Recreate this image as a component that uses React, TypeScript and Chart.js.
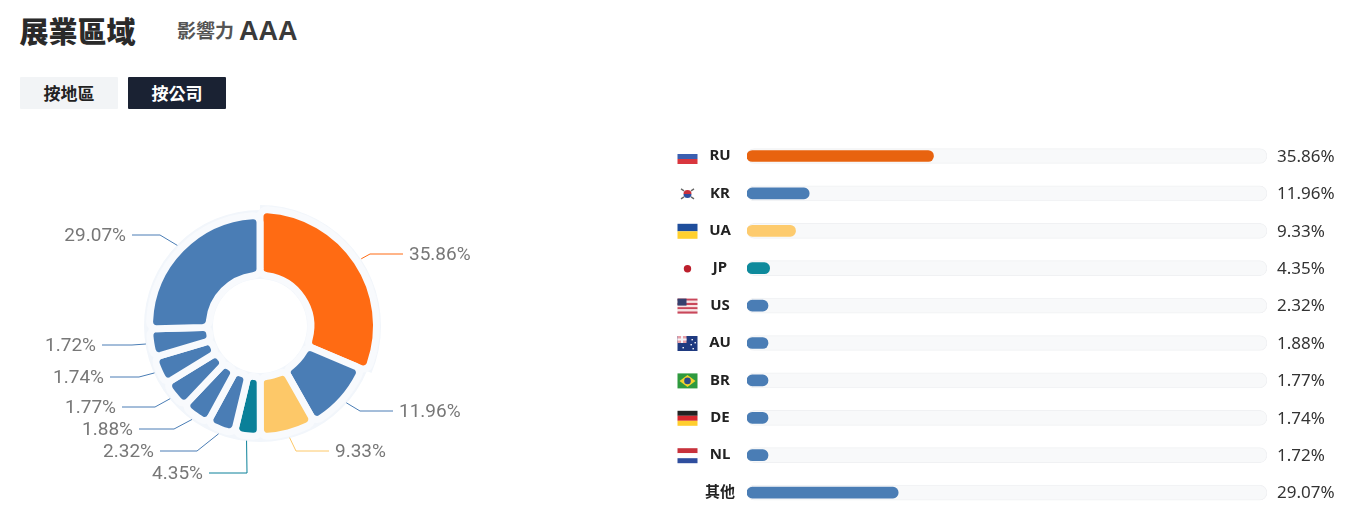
import React, { useEffect, useRef } from "react";
import { Chart, registerables } from "chart.js";

Chart.register(...registerables);

const categories = ["RU", "KR", "UA", "JP", "US", "AU", "BR", "DE", "NL", "其他"];
const shares = [35.86, 11.96, 9.33, 4.35, 2.32, 1.88, 1.77, 1.74, 1.72, 29.07];
const sliceColors = ["#FF6B13", "#4A7DB5", "#FDC868", "#0A8099", "#4A7DB5", "#4A7DB5", "#4A7DB5", "#4A7DB5", "#4A7DB5", "#4A7DB5"];
const barColors = ["#E8630F", "#4A7DB5", "#FDCB6E", "#0E8A9C", "#4A7DB5", "#4A7DB5", "#4A7DB5", "#4A7DB5", "#4A7DB5", "#4A7DB5"];
const trackValues = categories.map(() => 100);

// Where each pie label sits, relative to the canvas of the pie.
const labelElbowX = [370, 360, 296, 247, 197, 174, 155, 139, 132, 160];
const labelMidY = [254, 411, 451, 473, 451, 429, 407, 377, 345, 235];
const labelRun = [33, 33, 33, 38, 37, 35, 33, 29, 30, 28];

const MIN_ANGLE = 15;
// The pie in the reference widens tiny slices to a minimum angle.
function displayAngles(values: number[]) {
  const total = values.reduce((a, b) => a + b, 0);
  const unit = 360 / total;
  let rest = 360;
  let larger = 0;
  values.forEach((v) => {
    if (v * unit < MIN_ANGLE) rest -= MIN_ANGLE;
    else larger += v;
  });
  return values.map((v) => (v * unit < MIN_ANGLE ? MIN_ANGLE : (v * rest) / larger));
}

const PIE_TOP = 130;
const LABEL_FONT = "400 19px Roboto";

const pieExtras = {
  id: "pieExtras",
  afterDatasetsUpdate(chart: any) {
    const arc = chart.getDatasetMeta(0).data[0];
    arc.outerRadius += 6;
  },
  beforeDatasetsDraw(chart: any) {
    const { ctx } = chart;
    const arcs = chart.getDatasetMeta(0).data;
    const a = arcs[1];
    const o = arcs[0];
    ctx.save();
    ctx.fillStyle = "#F2F6FB";
    ctx.beginPath();
    ctx.arc(a.x, a.y, 116, 0, Math.PI * 2);
    ctx.arc(a.x, a.y, 47, 0, Math.PI * 2, true);
    ctx.fill("evenodd");
    ctx.beginPath();
    ctx.arc(a.x, a.y, 121, o.startAngle, o.endAngle);
    ctx.arc(a.x, a.y, 110, o.endAngle, o.startAngle, true);
    ctx.closePath();
    ctx.fill();
    ctx.restore();
  },
  afterDatasetsDraw(chart: any) {
    const { ctx } = chart;
    const arcs = chart.getDatasetMeta(0).data;
    ctx.save();
    ctx.font = LABEL_FONT;
    ctx.textBaseline = "middle";
    arcs.forEach((arc: any, i: number) => {
      const mid = (arc.startAngle + arc.endAngle) / 2;
      const r = arc.outerRadius + 5;
      const sx = arc.x + Math.cos(mid) * r;
      const sy = arc.y + Math.sin(mid) * r;
      const ly = labelMidY[i] - PIE_TOP;
      const right = Math.cos(mid) > 0;
      const text = shares[i].toFixed(2) + "%";
      const w = ctx.measureText(text).width;
      const elbowX = labelElbowX[i];
      const endX = right ? elbowX + labelRun[i] : elbowX - labelRun[i];
      ctx.beginPath();
      ctx.moveTo(sx, sy);
      ctx.lineTo(elbowX, ly);
      ctx.lineTo(endX, ly);
      ctx.strokeStyle = sliceColors[i];
      ctx.lineWidth = 1;
      ctx.stroke();
      ctx.fillStyle = "#777";
      ctx.textAlign = "left";
      ctx.fillText(text, right ? endX + 6 : endX - 6 - w, ly + 1);
    });
    ctx.restore();
  },
};

function drawFlag(ctx: CanvasRenderingContext2D, code: string, x: number, y: number) {
  const W = 20;
  const H = 15;
  const stripes = (cols: string[]) => {
    cols.forEach((c, i) => {
      ctx.fillStyle = c;
      ctx.fillRect(x, y + (i * H) / cols.length, W, H / cols.length);
    });
  };
  if (code === "RU") stripes(["#FFFFFF", "#3B5FB0", "#D9363E"]);
  else if (code === "UA") stripes(["#1F4E9C", "#FFD02E"]);
  else if (code === "DE") stripes(["#222222", "#D8272E", "#FFCE2E"]);
  else if (code === "NL") stripes(["#C8323C", "#FFFFFF", "#2F4E9E"]);
  else if (code === "JP") {
    ctx.fillStyle = "#BC1F2C";
    ctx.beginPath();
    ctx.arc(x + 10, y + 7.5, 3.7, 0, Math.PI * 2);
    ctx.fill();
  } else if (code === "KR") {
    ctx.fillStyle = "#C8303C";
    ctx.beginPath();
    ctx.arc(x + 10, y + 7.5, 4, Math.PI, 0);
    ctx.fill();
    ctx.fillStyle = "#2F4E9E";
    ctx.beginPath();
    ctx.arc(x + 10, y + 7.5, 4, 0, Math.PI);
    ctx.fill();
    ctx.strokeStyle = "#666";
    ctx.lineWidth = 1.4;
    [[3.5, 2.5, 6.5, 4.5], [16.5, 2.5, 13.5, 4.5], [3.5, 12.5, 6.5, 10.5], [16.5, 12.5, 13.5, 10.5]].forEach((s) => {
      ctx.beginPath();
      ctx.moveTo(x + s[0], y + s[1]);
      ctx.lineTo(x + s[2], y + s[3]);
      ctx.stroke();
    });
  } else if (code === "US") {
    for (let i = 0; i < 7; i++) {
      ctx.fillStyle = i % 2 ? "#F7E3E3" : "#C9475A";
      ctx.fillRect(x, y + (i * H) / 7, W, H / 7);
    }
    ctx.fillStyle = "#35406E";
    ctx.fillRect(x, y, 9, 7);
  } else if (code === "AU") {
    ctx.fillStyle = "#1F3A80";
    ctx.fillRect(x, y, W, H);
    ctx.fillStyle = "#E7A0A8";
    ctx.fillRect(x, y, 9, 7);
    ctx.fillStyle = "#F4F4F8";
    ctx.fillRect(x + 3.5, y, 2, 7);
    ctx.fillRect(x, y + 2.5, 9, 2);
    ctx.fillStyle = "#FFFFFF";
    [[14, 3], [17, 6], [13, 8], [15, 12], [5, 11]].forEach((p) => ctx.fillRect(x + p[0], y + p[1], 1.4, 1.4));
  } else if (code === "BR") {
    ctx.fillStyle = "#2E9A3E";
    ctx.fillRect(x, y, W, H);
    ctx.fillStyle = "#F3D22E";
    ctx.beginPath();
    ctx.moveTo(x + 10, y + 1.5);
    ctx.lineTo(x + 18, y + 7.5);
    ctx.lineTo(x + 10, y + 13.5);
    ctx.lineTo(x + 2, y + 7.5);
    ctx.closePath();
    ctx.fill();
    ctx.fillStyle = "#2A4A8A";
    ctx.beginPath();
    ctx.arc(x + 10, y + 7.5, 3.3, 0, Math.PI * 2);
    ctx.fill();
  }
}

const barExtras = {
  id: "barExtras",
  afterDatasetsDraw(chart: any) {
    const { ctx, scales } = chart;
    ctx.save();
    categories.forEach((code, i) => {
      const y = scales.y.getPixelForValue(i);
      drawFlag(ctx, code, 7.5, y - 7);
      ctx.font = "400 17px 'Noto Sans'";
      ctx.fillStyle = "#333";
      ctx.textAlign = "left";
      ctx.textBaseline = "middle";
      ctx.fillText(shares[i].toFixed(2) + "%", chart.chartArea.right + 10, y + 1);
    });
    ctx.restore();
  },
};

const cjk = "'Noto Sans CJK TC', sans-serif";

export default function App() {
  const pieRef = useRef<HTMLCanvasElement>(null);
  const barRef = useRef<HTMLCanvasElement>(null);

  useEffect(() => {
    const pie = new Chart(pieRef.current!, {
      type: "doughnut",
      data: {
        labels: categories,
        datasets: [
          {
            data: displayAngles(shares),
            backgroundColor: sliceColors,
            borderWidth: 7,
            borderColor: "#F8FAFD",
            borderRadius: 7,
          },
        ],
      },
      options: {
        responsive: false,
        animation: false,
        radius: 110.5,
        cutout: "46%",
        layout: { padding: { left: 0, right: 120, top: 0, bottom: 8 } },
        plugins: { legend: { display: false }, tooltip: { enabled: false } },
      } as any,
      plugins: [pieExtras],
    });
    const bar = new Chart(barRef.current!, {
      type: "bar",
      data: {
        labels: categories,
        datasets: [
          {
            data: shares,
            backgroundColor: barColors,
            barThickness: 11,
            borderRadius: 6,
            borderSkipped: false,
            minBarLength: 21,
            grouped: false,
          },
          {
            data: trackValues,
            backgroundColor: "#F8F9FA",
            borderColor: "#F0F1F3",
            borderWidth: 1,
            barThickness: 15,
            borderRadius: 8,
            borderSkipped: false,
            grouped: false,
          },
        ],
      },
      options: {
        indexAxis: "y",
        responsive: false,
        animation: false,
        layout: { padding: { left: 0, right: 98, top: 7.3, bottom: 18.7 } },
        scales: {
          x: { display: false, min: 0, max: 100 },
          y: {
            afterFit(scale: any) {
              scale.width = 77;
              scale.paddingTop = 0;
              scale.paddingBottom = 0;
            },
            grid: { display: false, drawTicks: false },
            border: { display: false },
            ticks: {
              crossAlign: "center",
              padding: 12,
              color: "#222",
              font: { family: "'Noto Sans', 'Noto Sans CJK TC'", weight: "bold", size: 15 },
            },
          },
        },
        plugins: { legend: { display: false }, tooltip: { enabled: false } },
      } as any,
      plugins: [barExtras],
    });
    return () => {
      pie.destroy();
      bar.destroy();
    };
  }, []);

  const abs = (o: React.CSSProperties): React.CSSProperties => ({ position: "absolute", whiteSpace: "nowrap", ...o });

  return (
    <div style={{ position: "absolute", left: 0, top: 0, width: 1365, height: 530, overflow: "hidden", background: "#fff", fontFamily: cjk }}>
      <div style={abs({ left: 19.5, top: 9, fontSize: 29, lineHeight: "42px", fontWeight: 900, color: "#2a2a2a" })}>展業區域</div>
      <div style={abs({ left: 177, top: 15, fontSize: 19, lineHeight: "30px", fontWeight: 700, color: "#555" })}>影響力</div>
      <div style={abs({ left: 239, top: 13, fontSize: 27, lineHeight: "36px", fontWeight: 700, color: "#3a3a3a", fontFamily: "'Liberation Sans'" })}>AAA</div>
      <div style={abs({ left: 20, top: 77, width: 98, height: 32, background: "#F2F4F6", borderRadius: 1, textAlign: "center", fontSize: 17, lineHeight: "32px", fontWeight: 700, color: "#222" })}>按地區</div>
      <div style={abs({ left: 128, top: 77, width: 98, height: 32, background: "#1A2233", borderRadius: 1, textAlign: "center", fontSize: 17, lineHeight: "32px", fontWeight: 700, color: "#fff" })}>按公司</div>
      <canvas ref={pieRef} width={640} height={400} style={{ position: "absolute", left: 0, top: PIE_TOP, width: 640, height: 400 }} />
      <canvas ref={barRef} width={695} height={400} style={{ position: "absolute", left: 670, top: 130, width: 695, height: 400 }} />
    </div>
  );
}
